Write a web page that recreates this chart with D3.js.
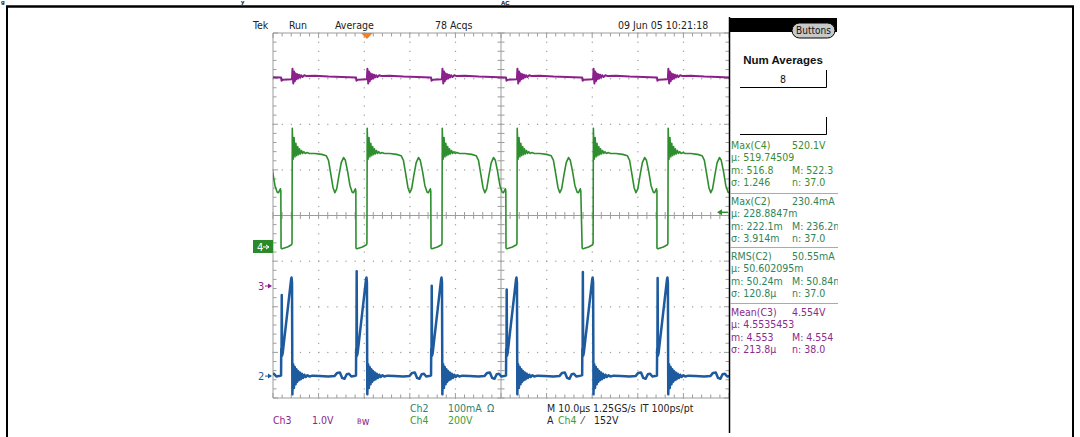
<!DOCTYPE html>
<html><head><meta charset="utf-8">
<script src="https://cdn.jsdelivr.net/npm/d3@7"></script>
<style>
body{margin:0;background:#fff;}
svg{display:block;font-family:"Liberation Sans Narrow","DejaVu Sans Condensed","Liberation Sans",sans-serif;}
</style>
</head><body>
<svg id="c" width="1080" height="437"></svg>
<script>
// ---------------- DATA ----------------
// Time of each Ch4 rising edge (µs from left of screen)
const cycleStarts = [-12.28, 4.17, 20.6, 37.06, 53.5, 70.2, 86.6];
// Ch2 leading current spike height per cycle (mA)
const ch2Spikes = [190, 178, 230, 198, 190, 228, 215];

// Ch4 (drain voltage, V) one-cycle template, t relative to rising edge (µs)
const ch4T = [-2.40,-2.20,-1.00,-0.10,0.00,0.06,0.25,0.45,0.65,0.85,1.05,1.25,1.45,1.65,1.85,2.10,2.35,2.60,2.90,3.30,3.80,5.00,6.50,7.50,8.00,8.50,9.00,9.40,9.80,10.30,10.80,11.30,11.70,12.20,12.70,13.20,13.50,13.75,13.90,14.00];
const ch4V = [-5,-8,0,10,15,520,385,480,395,455,400,440,405,430,408,423,410,418,410,414,410,410,406,400,380,320,260,238,255,315,370,392,380,330,270,240,238,250,255,245];

// Ch2 (current, mA) template; null marks the per-cycle spike
const ch2T = [-2.40,-2.36,-2.30,-2.25,-2.18,-2.05,-0.20,-0.10,0.00,0.08,0.25,0.42,0.60,0.78,0.95,1.12,1.30,1.50,1.70,1.90,2.15,2.40,2.70,3.00,3.40,3.80,4.50,6.00,8.00,9.30,9.90,10.50,11.00,11.50,12.00,12.50,13.00,13.60,14.00];
const ch2I = [2,60,50,null,45,50,212,216,205,-40,26,-26,20,-18,15,-13,11,-9,8,-7,5,-4,3,-2,2,-1,1,0,-1,0,7,8,-4,-6,4,5,-1,0,1];

// Ch3 (V) template
const ch3T = [-2.40,-2.30,-2.00,-0.10,0.00,0.10,0.28,0.45,0.62,0.80,0.98,1.16,1.35,1.55,1.75,2.00,2.30,2.70,3.20,5.00,8.00,11.00,14.00];
const ch3V = [4.57,4.50,4.52,4.53,4.55,4.76,4.44,4.70,4.49,4.66,4.53,4.64,4.55,4.63,4.57,4.62,4.58,4.62,4.60,4.61,4.59,4.58,4.57];

// channel settings: units/div and reference offset (divisions from centre)
const chNames = ["Ch2","Ch3","Ch4"];
const chScale = [100, 1.0, 200];
const chOffset = [-3.52, -1.545, -0.69];

// text
const headerLabels = ["Tek","Run","Average","78 Acqs","09 Jun 05 10:21:18"];
const headerX = [253, 289, 335, 435, 618];
const measTitles = ["Max(C4)","Max(C2)","RMS(C2)","Mean(C3)"];
const measValues = ["520.1V","230.4mA","50.55mA","4.554V"];
const measMu = ["µ: 519.74509","µ: 228.8847m","µ: 50.602095m","µ: 4.5535453"];
const measMin = ["m: 516.8","m: 222.1m","m: 50.24m","m: 4.553"];
const measMax = ["M: 522.3","M: 236.2n","M: 50.84n","M: 4.554"];
const measSigma = ["σ: 1.246","σ: 3.914m","σ: 120.8µ","σ: 213.8µ"];
const measN = ["n: 37.0","n: 37.0","n: 37.0","n: 38.0"];
const measColors = ["#3a8c34","#2f8458","#2f8458","#8a2c8a"];

// ---------------- LAYOUT ----------------
const svg = d3.select("#c");
const gx0 = 273, gx1 = 729, gy0 = 33, gy1 = 398;
const x = d3.scaleLinear().domain([0,100]).range([gx0,gx1]);
const yd = d3.scaleLinear().domain([-4,4]).range([gy1,gy0]);

const GRID = "#9c9c9c";
const C2 = "#1d5a9e", C3 = "#8b1f8b", C4 = "#2e8e2e";

// outer figure frame + title fragments
svg.append("line").attr("x1",6).attr("x2",1074).attr("y1",6.5).attr("y2",6.5).attr("stroke","#000").attr("stroke-width",2.5);
svg.append("line").attr("x1",7).attr("x2",7).attr("y1",6).attr("y2",437).attr("stroke","#000").attr("stroke-width",2);
svg.append("line").attr("x1",1073).attr("x2",1073).attr("y1",6).attr("y2",437).attr("stroke","#000").attr("stroke-width",2);
const ttl = svg.append("g").attr("font-family","Liberation Sans, Arial, sans-serif").attr("font-weight","bold").attr("fill","#000");
ttl.append("text").attr("x",1).attr("y",3.5).attr("font-size",6).text("g");
ttl.append("text").attr("x",241).attr("y",3.5).attr("font-size",6).text("y");
ttl.append("text").attr("x",501).attr("y",5).attr("font-size",6).text("AC");

// graticule group
const g = svg.append("g");
for (let i=1;i<10;i++){ if(i===5) continue;
  for (let k=0;k<=40;k++){ g.append("rect").attr("x",x(i*10)-0.5).attr("y",yd(-4+k*0.2)-0.5).attr("width",1.2).attr("height",1.2).attr("fill",GRID); }
}
for (let j=1;j<8;j++){ if(j===4) continue;
  for (let k=0;k<=50;k++){ g.append("rect").attr("x",x(k*2)-0.5).attr("y",yd(-4+j)-0.5).attr("width",1.2).attr("height",1.2).attr("fill",GRID); }
}
g.append("line").attr("x1",gx0).attr("x2",gx1).attr("y1",gy0).attr("y2",gy0).attr("stroke",GRID);
g.append("line").attr("x1",gx0).attr("x2",gx1).attr("y1",gy1).attr("y2",gy1).attr("stroke",GRID);
g.append("line").attr("x1",gx0).attr("x2",gx0).attr("y1",gy0).attr("y2",gy1).attr("stroke",GRID);
g.append("line").attr("x1",x(50)).attr("x2",x(50)).attr("y1",gy0).attr("y2",gy1).attr("stroke",GRID);
g.append("line").attr("x1",gx0).attr("x2",gx1).attr("y1",yd(0)).attr("y2",yd(0)).attr("stroke",GRID);
for (let k=0;k<=50;k++){
  const xx = x(k*2), L = (k%5===0)?5:3.5;
  g.append("line").attr("x1",xx).attr("x2",xx).attr("y1",gy0).attr("y2",gy0+L).attr("stroke",GRID);
  g.append("line").attr("x1",xx).attr("x2",xx).attr("y1",gy1).attr("y2",gy1-L).attr("stroke",GRID);
  g.append("line").attr("x1",xx).attr("x2",xx).attr("y1",yd(0)-3.5).attr("y2",yd(0)+3.5).attr("stroke",GRID);
}
for (let k=0;k<=40;k++){
  const yy = yd(-4+k*0.2), L = (k%5===0)?5:3.5;
  g.append("line").attr("x1",gx0).attr("x2",gx0+L).attr("y1",yy).attr("y2",yy).attr("stroke",GRID);
  g.append("line").attr("x1",gx1).attr("x2",gx1-L).attr("y1",yy).attr("y2",yy).attr("stroke",GRID);
  g.append("line").attr("x1",x(50)-3.5).attr("x2",x(50)+3.5).attr("y1",yy).attr("y2",yy).attr("stroke",GRID);
}

svg.append("clipPath").attr("id","plot").append("rect").attr("x",gx0).attr("y",gy0).attr("width",gx1-gx0).attr("height",gy1-gy0);

function buildSeries(T, V, ch, spikeFn){
  const pts = [];
  cycleStarts.forEach((c,ci)=>{
    T.forEach((t,i)=>{
      let v = V[i]; if (v===null) v = spikeFn(ci);
      pts.push([c+t, chOffset[ch] + v/chScale[ch]]);
    });
  });
  return pts;
}
const line = d3.line().x(d=>x(d[0])).y(d=>yd(d[1]));
const traces = svg.append("g").attr("clip-path","url(#plot)").attr("fill","none").attr("stroke-linejoin","round");
traces.append("path").attr("d",line(buildSeries(ch3T,ch3V,1))).attr("stroke",C3).attr("stroke-width",2);
traces.append("path").attr("d",line(buildSeries(ch4T,ch4V,2))).attr("stroke",C4).attr("stroke-width",1.6);
traces.append("path").attr("d",line(buildSeries(ch2T,ch2I,0,ci=>ch2Spikes[ci]))).attr("stroke",C2).attr("stroke-width",2.5);

svg.append("line").attr("x1",729.5).attr("x2",729.5).attr("y1",17).attr("y2",433).attr("stroke","#000").attr("stroke-width",1.5);

// trigger markers
svg.append("path").attr("d",`M${x(20.6)-6},${gy0} L${x(20.6)+6},${gy0} L${x(20.6)},${gy0+6} Z`).attr("fill","#f0802c");
const trigY = yd(chOffset[2] + 152/chScale[2]);
svg.append("line").attr("x1",gx1-1).attr("x2",gx1-9).attr("y1",trigY).attr("y2",trigY).attr("stroke",C4).attr("stroke-width",1.5);
svg.append("path").attr("d",`M${gx1-12},${trigY} L${gx1-7},${trigY-3} L${gx1-7},${trigY+3} Z`).attr("fill",C4);

// channel reference markers
const r4 = yd(chOffset[2]);
svg.append("rect").attr("x",253).attr("y",r4-7).attr("width",20).attr("height",13).attr("fill","#2a8a2a");
svg.append("text").attr("x",257).attr("y",r4+4).attr("font-size",11).attr("fill","#fff").text("4");
svg.append("path").attr("d",`M263,${r4} L269,${r4} M266,${r4-2} L269,${r4} L266,${r4+2}`).attr("stroke","#fff").attr("fill","none");
[[1,C3,"3"],[0,C2,"2"]].forEach(([ch,col,lab])=>{
  const yy = yd(chOffset[ch]);
  svg.append("text").attr("x",258).attr("y",yy+4).attr("font-size",11).attr("fill",col).text(lab);
  svg.append("path").attr("d",`M265,${yy} L271,${yy}`).attr("stroke",col);
  svg.append("path").attr("d",`M268,${yy-2.5} L272,${yy} L268,${yy+2.5} Z`).attr("fill",col);
});

// header text
const hdr = svg.append("g").attr("font-size",10.5).attr("fill","#222");
headerLabels.forEach((t,i)=>hdr.append("text").attr("x",headerX[i]).attr("y",29).text(t));

// right panel
const rp = svg.append("g");
rp.append("rect").attr("x",730).attr("y",18).attr("width",107).attr("height",14).attr("fill","#000");
rp.append("rect").attr("x",792).attr("y",23).attr("width",43).attr("height",15).attr("rx",7.5).attr("fill","#c8c8c8").attr("stroke","#000");
rp.append("text").attr("x",813.5).attr("y",34).attr("text-anchor","middle").attr("font-size",10).attr("fill","#111").text("Buttons");
rp.append("text").attr("x",783).attr("y",64).attr("text-anchor","middle").attr("font-family","Liberation Sans, Arial, sans-serif").attr("font-weight","bold").attr("font-size",11.5).attr("fill","#111").text("Num Averages");
rp.append("path").attr("d","M740,87.5 H826.5 V70").attr("fill","none").attr("stroke","#000");
rp.append("text").attr("x",783).attr("y",83).attr("text-anchor","middle").attr("font-size",10.5).attr("fill","#111").text("8");
rp.append("path").attr("d","M740,134.5 H826.5 V117").attr("fill","none").attr("stroke","#000");

svg.append("clipPath").attr("id","panel").append("rect").attr("x",730).attr("y",0).attr("width",108).attr("height",437);
const mp = svg.append("g").attr("clip-path","url(#panel)").attr("font-size",10.5);
const blockTop = [140, 196, 251, 307];
const seps = [193.5, 247.5, 303.5];
seps.forEach(s=>mp.append("line").attr("x1",730).attr("x2",838).attr("y1",s).attr("y2",s).attr("stroke","#aaa"));
measTitles.forEach((t,i)=>{
  const b = mp.append("g").attr("fill",measColors[i]);
  const y0 = blockTop[i] + 9;
  b.append("text").attr("x",731).attr("y",y0).text(t);
  b.append("text").attr("x",792).attr("y",y0).text(measValues[i]);
  b.append("text").attr("x",731).attr("y",y0+12).text(measMu[i]);
  b.append("text").attr("x",731).attr("y",y0+24.5).text(measMin[i]);
  b.append("text").attr("x",792).attr("y",y0+24.5).text(measMax[i]);
  b.append("text").attr("x",731).attr("y",y0+37).text(measSigma[i]);
  b.append("text").attr("x",792).attr("y",y0+37).text(measN[i]);
});

// bottom text
const bt = svg.append("g").attr("font-size",10.5);
const T2 = "#2f8070", T4 = "#3f9a35";
bt.append("text").attr("x",273).attr("y",424).attr("fill",C3).text("Ch3");
bt.append("text").attr("x",312).attr("y",424).attr("fill",C3).text("1.0V");
bt.append("text").attr("x",357).attr("y",424).attr("fill",C3).html('<tspan font-size="7.5">B</tspan><tspan dy="1">w</tspan>');
bt.append("text").attr("x",410).attr("y",412).attr("fill",T2).text("Ch2");
bt.append("text").attr("x",448).attr("y",412).attr("fill",T2).text("100mA");
bt.append("text").attr("x",487).attr("y",412).attr("fill",T2).text("Ω");
bt.append("text").attr("x",410).attr("y",424).attr("fill",T4).text("Ch4");
bt.append("text").attr("x",448).attr("y",424).attr("fill",T4).text("200V");
bt.append("text").attr("x",547).attr("y",412).attr("fill","#222").text("M 10.0µs 1.25GS/s");
bt.append("text").attr("x",640).attr("y",412).attr("fill","#222").text("IT 100ps/pt");
bt.append("text").attr("x",547).attr("y",424).attr("fill","#222").text("A");
bt.append("text").attr("x",558).attr("y",424).attr("fill",T4).text("Ch4");
bt.append("text").attr("x",582).attr("y",424).attr("fill","#222").text("⁄");
bt.append("text").attr("x",594).attr("y",424).attr("fill","#222").text("152V");
</script>
</body></html>
